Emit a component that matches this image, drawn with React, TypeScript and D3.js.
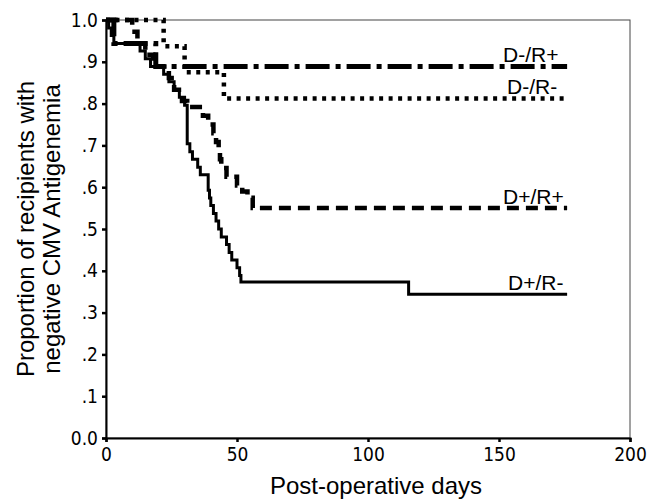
import { useEffect, useRef } from 'react';
import * as d3 from 'd3';

// Kaplan-Meier curves (day of each step, proportion after it)
const xTicks = [0, 50, 100, 150, 200];
const yTicks = [0, 0.1, 0.2, 0.3, 0.4, 0.5, 0.6, 0.7, 0.8, 0.9, 1.0];
const yTickLabels = ['0.0', '.1', '.2', '.3', '.4', '.5', '.6', '.7', '.8', '.9', '1.0'];

const dnrpDays = [0, 3, 19, 176];
const dnrpSurv = [1, 0.944, 0.889, 0.889];

const dnrnDays = [0, 22, 30, 45, 176];
const dnrnSurv = [1, 0.9375, 0.875, 0.8125, 0.8125];

const dprpDays = [0, 10, 12, 15, 18, 24, 26, 29, 31, 37, 39, 41, 42, 43, 43.5, 44, 46, 50, 52, 54, 56, 176];
const dprpSurv = [1, 0.972, 0.944, 0.917, 0.889, 0.861, 0.833, 0.806, 0.792, 0.771, 0.75, 0.729, 0.708, 0.688, 0.667, 0.646, 0.625, 0.604, 0.59, 0.575, 0.55, 0.55];

const dprnDays = [0, 1, 2, 3, 13, 15, 17, 22, 24, 26, 28, 30, 31, 32, 33, 35, 36, 39, 39.5, 40, 41, 42, 43, 44, 46, 47, 48, 50, 51, 51.5, 115.5, 176];
const dprnSurv = [1, 0.981, 0.963, 0.944, 0.926, 0.907, 0.889, 0.87, 0.852, 0.833, 0.815, 0.796, 0.704, 0.685, 0.667, 0.648, 0.63, 0.593, 0.574, 0.556, 0.537, 0.519, 0.5, 0.481, 0.463, 0.444, 0.426, 0.407, 0.389, 0.373, 0.344, 0.344];

const groups = ['D-/R+', 'D-/R-', 'D+/R+', 'D+/R-'];

export default function App() {
  const svgRef = useRef<SVGSVGElement>(null);

  useEffect(() => {
    const width = 654;
    const height = 503;
    const svg = d3.select(svgRef.current);
    svg.selectAll('*').remove();
    svg.attr('width', width).attr('height', height);

    const x = d3.scaleLinear().domain([0, 200]).range([106, 630]);
    const y = d3.scaleLinear().domain([0, 1]).range([438, 20]);

    const tickFont = '"Liberation Sans Narrow", "DejaVu Sans Condensed", sans-serif';
    const textFont = '"Liberation Sans", Arial, sans-serif';

    // frame: thin top / right, heavy left / bottom
    svg.append('rect')
      .attr('x', x(0)).attr('y', y(1))
      .attr('width', x(200) - x(0)).attr('height', y(0) - y(1))
      .attr('fill', 'none').attr('stroke', '#444').attr('stroke-width', 1);

    const yAxis = svg.append('g').attr('transform', `translate(${x(0)},0)`)
      .call(d3.axisLeft(y).tickValues(yTicks).tickSize(4).tickFormat((d, i) => yTickLabels[i]));
    const xAxis = svg.append('g').attr('transform', `translate(0,${y(0)})`)
      .call(d3.axisBottom(x).tickValues(xTicks).tickSize(4).tickFormat(d3.format('d')));

    [yAxis, xAxis].forEach(g => {
      g.select('.domain').attr('stroke', '#000').attr('stroke-width', 2);
      g.selectAll('.tick line').attr('stroke', '#000').attr('stroke-width', 2.5);
      g.selectAll('.tick text')
        .attr('fill', '#000')
        .style('font-family', tickFont)
        .style('font-size', '19px');
    });
    yAxis.selectAll('.tick text').attr('x', -8);
    xAxis.selectAll('.tick text').attr('y', 10);

    const series = [
      { days: dnrpDays, surv: dnrpSurv, dash: '24,6,5,6', w: 5 },
      { days: dnrnDays, surv: dnrnSurv, dash: '4,5.5', w: 4.5 },
      { days: dprpDays, surv: dprpSurv, dash: '12,7', w: 4.5 },
      { days: dprnDays, surv: dprnSurv, dash: null, w: 3 },
    ];

    const line = d3.line<[number, number]>()
      .x(d => x(d[0]))
      .y(d => y(d[1]))
      .curve(d3.curveStepAfter);

    series.forEach(s => {
      const pts = s.days.map((d, i) => [d, s.surv[i]] as [number, number]);
      svg.append('path')
        .datum(pts)
        .attr('d', line)
        .attr('fill', 'none')
        .attr('stroke', '#000')
        .attr('stroke-width', s.w)
        .attr('stroke-dasharray', s.dash)
        .attr('stroke-linejoin', 'miter');
    });

    // curve labels, sitting on the end of each curve
    const labelX = [503, 507, 503, 508];
    series.forEach((s, i) => {
      svg.append('text')
        .attr('x', labelX[i])
        .attr('y', y(s.surv[s.surv.length - 1]) - 4)
        .style('font-family', textFont)
        .style('font-size', '21px')
        .text(groups[i]);
    });

    svg.append('text')
      .attr('x', 376).attr('y', 494)
      .attr('text-anchor', 'middle')
      .style('font-family', textFont)
      .style('font-size', '24px')
      .text('Post-operative days');

    const yTitle = svg.append('g').attr('transform', 'translate(0,229) rotate(-90)');
    yTitle.append('text')
      .attr('x', 0).attr('y', 34)
      .attr('text-anchor', 'middle')
      .style('font-family', textFont)
      .style('font-size', '24px')
      .text('Proportion of recipients with');
    yTitle.append('text')
      .attr('x', 0).attr('y', 60)
      .attr('text-anchor', 'middle')
      .style('font-family', textFont)
      .style('font-size', '24px')
      .text('negative CMV Antigenemia');
  }, []);

  return (
    <div style={{ position: 'absolute', left: 0, top: 0, background: '#fff' }}>
      <svg ref={svgRef}></svg>
    </div>
  );
}
